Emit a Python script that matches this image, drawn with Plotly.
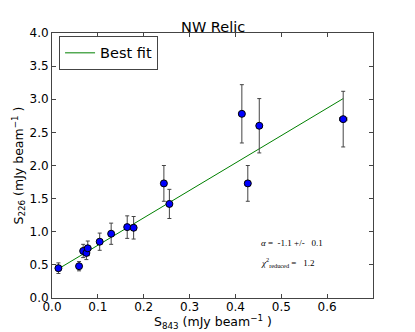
import plotly.graph_objects as go

# flux densities
s843 = [0.014, 0.059, 0.068, 0.075, 0.078, 0.104, 0.129, 0.164, 0.178, 0.244, 0.256, 0.414, 0.427, 0.452, 0.635]
s843_err = [0.002, 0.002, 0.002, 0.002, 0.002, 0.003, 0.003, 0.003, 0.003, 0.004, 0.004, 0.006, 0.006, 0.006, 0.008]
s226 = [0.45, 0.48, 0.71, 0.68, 0.75, 0.85, 0.97, 1.07, 1.06, 1.73, 1.42, 2.78, 1.73, 2.60, 2.70]
s226_err = [0.08, 0.07, 0.10, 0.10, 0.11, 0.13, 0.16, 0.17, 0.17, 0.27, 0.22, 0.44, 0.27, 0.41, 0.42]

# best fit line end points
fit_x = [0.014, 0.635]
fit_y = [0.44, 3.01]

x_ticks = [0.0, 0.1, 0.2, 0.3, 0.4, 0.5, 0.6]
y_ticks = [0.0, 0.5, 1.0, 1.5, 2.0, 2.5, 3.0, 3.5, 4.0]

fig = go.Figure()

fig.add_trace(go.Scatter(
    x=fit_x, y=fit_y, mode='lines', name='Best fit',
    line=dict(color='rgb(0,128,0)', width=1),
))

fig.add_trace(go.Scatter(
    x=s843, y=s226, mode='markers', showlegend=False,
    marker=dict(color='rgb(0,0,255)', size=7, line=dict(color='black', width=1)),
    error_y=dict(type='data', array=s226_err, color='#444', thickness=1, width=2),
    error_x=dict(type='data', array=s843_err, color='#444', thickness=1, width=2),
))

# fit results
fig.add_annotation(x=0.451, y=0.83, xref='x', yref='y', xanchor='left', showarrow=False,
                   text='<i>α</i> =  -1.1 +/-   0.1',
                   font=dict(family='Liberation Serif', size=9, color='black'))
fig.add_annotation(x=0.451, y=0.54, xref='x', yref='y', xanchor='left', showarrow=False,
                   text='<i>χ</i><sup>2</sup><sub>reduced</sub> =   1.2',
                   font=dict(family='Liberation Serif', size=9, color='black'))

# axis titles as annotations so they sit where matplotlib put them
fig.add_annotation(x=0.5, y=0, xref='paper', yref='paper', yanchor='middle', yshift=-24,
                   showarrow=False, text='S<sub>843</sub> (mJy beam<sup>−1</sup> )',
                   font=dict(family='DejaVu Sans', size=12.5, color='black'))
fig.add_annotation(x=0, y=0.5, xref='paper', yref='paper', xanchor='center', xshift=-34,
                   textangle=-90, showarrow=False, text='S<sub>226</sub> (mJy beam<sup>−1</sup> )',
                   font=dict(family='DejaVu Sans', size=12.5, color='black'))

axis_style = dict(
    showline=True, mirror='ticks', linecolor='#444', linewidth=1,
    ticks='inside', ticklen=4, tickcolor='#444',
    showgrid=False, zeroline=False, automargin=False,
    tickfont=dict(family='DejaVu Sans', size=12, color='black'),
)

# page body adds an 8px margin, so the figure is 8px smaller each way
fig.update_layout(
    width=407, height=324,
    margin=dict(l=44, r=42, t=25, b=34),
    paper_bgcolor='white', plot_bgcolor='white',
    title=dict(text='NW Relic', x=0.504, xanchor='center', y=0.943, yanchor='middle',
               font=dict(family='DejaVu Sans', size=14.5, color='black')),
    showlegend=True,
    legend=dict(x=0.022, y=0.989, xanchor='left', yanchor='top',
                bordercolor='#444', borderwidth=1, bgcolor='white',
                font=dict(family='DejaVu Sans', size=14.5, color='black')),
    font=dict(family='DejaVu Sans', color='black'),
)

fig.update_xaxes(range=[0, 0.7], tickvals=x_ticks, tickformat='.1f',
                 ticklabelstandoff=-2, **axis_style)
fig.update_yaxes(range=[0, 4], tickvals=y_ticks, tickformat='.1f', **axis_style)

fig.write_html("out.html")
